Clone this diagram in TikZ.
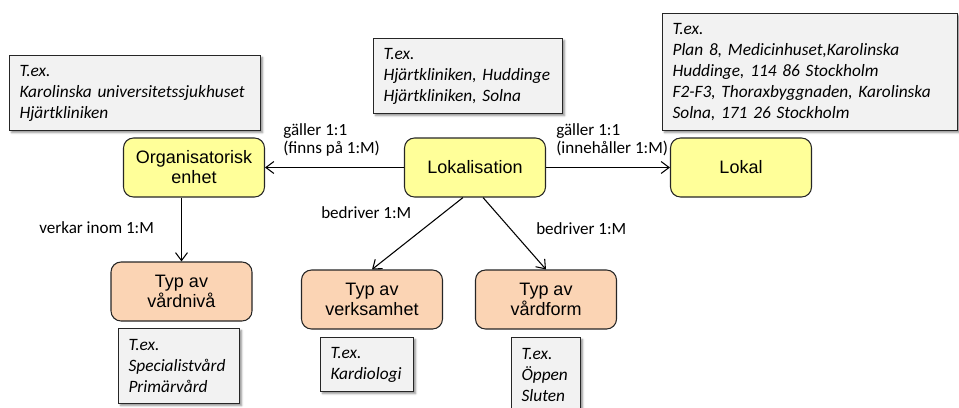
\documentclass[tikz,border=0pt]{standalone}
\usepackage{fontspec}
\usepackage{tikz}
\usetikzlibrary{arrows.meta}
\usetikzlibrary{shadows.blur}
\newfontfamily\arialfont{Liberation Sans}
\newfontfamily\calibrifont{Carlito}
\definecolor{entyellow}{RGB}{255,255,153}
\definecolor{entpeach}{RGB}{251,212,180}
\definecolor{exgray}{RGB}{242,242,242}
\frenchspacing

\begin{document}
\begin{tikzpicture}[x=0.75pt,y=0.75pt,yscale=-1,xscale=1,
  entity/.style={draw=black!85, line width=0.8pt, rounded corners=7.5pt, align=center, inner sep=0pt,
    font=\arialfont\fontsize{13.5}{15}\selectfont, minimum width=105.75pt, minimum height=44.25pt},
  exbox/.style={draw=black!85, line width=0.8pt, fill=exgray, anchor=north west, align=left,
    inner xsep=7.5pt, inner ysep=0pt, font=\calibrifont\itshape\fontsize{13}{15.75}\selectfont,
    blur shadow={shadow xshift=1.5pt, shadow yshift=-1.5pt, shadow blur radius=1.5pt, shadow opacity=45}},
  lbl/.style={font=\calibrifont\fontsize{12.8}{13.5}\selectfont, inner sep=0pt, align=left},
  conn/.style={line width=0.8pt, -{Straight Barb[length=6pt,width=9pt]}}]
\useasboundingbox (0,0) rectangle (959,407);

%Rounded Rect
\node (org) at (194,167.5) [entity, fill=entyellow] {Organisatorisk\\enhet};
%Rounded Rect
\node (lok) at (475,167.5) [entity, fill=entyellow] {Lokalisation};
%Rounded Rect
\node (lokal) at (741,167.5) [entity, fill=entyellow] {Lokal};
%Rounded Rect
\node (vardniva) at (181.5,291.5) [entity, fill=entpeach] {Typ av\\vårdnivå};
%Rounded Rect
\node (verks) at (372,299.5) [entity, fill=entpeach] {Typ av\\verksamhet};
%Rounded Rect
\node (vardform) at (546,299.5) [entity, fill=entpeach] {Typ av\\vårdform};

% Text Node
\node (exorg) at (9,55) [exbox, text width=173.25pt, minimum height=56.25pt] {T.ex.\\Karolinska universitetssjukhuset\\Hjärtkliniken};
% Text Node
\node (exlok) at (373,38) [exbox, text width=126.75pt, minimum height=56.25pt] {T.ex.\\Hjärtkliniken, Huddinge\\Hjärtkliniken, Solna};
% Text Node
\node (exlokal) at (662,13) [exbox, text width=206.25pt, minimum height=87.75pt] {T.ex.\\Plan 8, Medicinhuset,Karolinska\\Huddinge, 114 86 Stockholm\\F2-F3, Thoraxbyggnaden, Karolinska\\Solna, 171 26 Stockholm};
% Text Node
\node (exniva) at (118,328) [exbox, text width=75.75pt, minimum height=56.25pt] {T.ex.\\Specialistvård\\Primärvård};
% Text Node
\node (exverks) at (320,337) [exbox, text width=54.75pt, minimum height=40.5pt] {T.ex.\\Kardiologi};
% Text Node
\node (exform) at (511,337) [exbox, text width=36.75pt, minimum height=56.25pt] {T.ex.\\Öppen\\Sluten};

% Text Node
\node (lblorg) at (283,123) [lbl, anchor=north west] {gäller 1:1\\(finns på 1:M)};
% Text Node
\node (lbllokal) at (556,123) [lbl, anchor=north west] {gäller 1:1\\(innehåller 1:M)};
% Text Node
\node (lblniva) at (39,233) [lbl, anchor=base west] {verkar inom 1:M};
% Text Node
\node (lblverks) at (321,218) [lbl, anchor=base west] {bedriver 1:M};
% Text Node
\node (lblform) at (536,234) [lbl, anchor=base west] {bedriver 1:M};

%Straight Lines
\draw [conn] (lok) -- (org);
\draw [conn] (lok) -- (lokal);
\draw [conn] (org.south -| vardniva.north) -- (vardniva.north);
\draw [conn] ([xshift=-9pt]lok.south) -- (verks.north);
\draw [conn] ([xshift=6pt]lok.south) -- (vardform.north);

\end{tikzpicture}
\end{document}
